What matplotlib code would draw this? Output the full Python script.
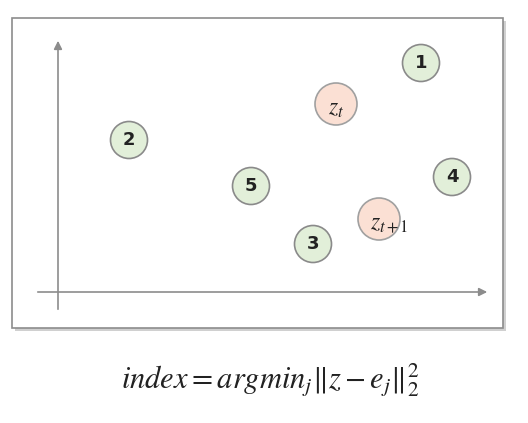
import matplotlib
matplotlib.use("Agg")
import matplotlib.pyplot as plt
from matplotlib.patches import Circle, Rectangle, FancyArrowPatch

plt.rcParams["mathtext.fontset"] = "stix"

labels = ["1", "2", "3", "4", "5", r"$\boldsymbol{z_t}$", r"$\boldsymbol{z_{t+1}}$"]
xs = [421, 129, 313, 452, 251, 336, 379]
ys = [63, 140, 244, 177, 186, 104, 219]
kinds = ["e", "e", "e", "e", "e", "z", "z"]

W, H = 528, 423
fig = plt.figure(figsize=(W/100, H/100), dpi=100)
ax = fig.add_axes([0, 0, 1, 1])
ax.set_xlim(0, W); ax.set_ylim(H, 0); ax.axis("off")

ax.add_patch(Rectangle((15, 21), 491, 310, facecolor="#d0d0d0", edgecolor="none"))
ax.add_patch(Rectangle((12, 18), 491, 310, facecolor="white", edgecolor="#8c8c8c", lw=1.2))
ax.add_patch(FancyArrowPatch((58, 312), (58, 38), arrowstyle="-|>", mutation_scale=12, color="#8c8c8c", lw=1.2))
ax.add_patch(FancyArrowPatch((35, 292), (490, 292), arrowstyle="-|>", mutation_scale=12, color="#8c8c8c", lw=1.2))

for lab, x, y, k in zip(labels, xs, ys, kinds):
    if k == "e":
        ax.add_patch(Circle((x, y), 18.5, facecolor="#e2efd9", edgecolor="#8a8a8a", lw=1.2))
        ax.text(x, y, lab, ha="center", va="center", fontsize=13, fontweight="bold", color="#222")
    else:
        ax.add_patch(Circle((x, y), 21, facecolor="#fbe0d4", edgecolor="#a0a0a0", lw=1.2))
        ax.text(x + (10 if "t+1" in lab else 0), y + 4, lab, ha="center", va="center", fontsize=17, color="#222")

ax.text(270, 380, r"$index = argmin_j\Vert z - e_j\Vert_2^2$", ha="center", va="center", fontsize=22, color="#222")
fig.savefig("out.png", dpi=100)
